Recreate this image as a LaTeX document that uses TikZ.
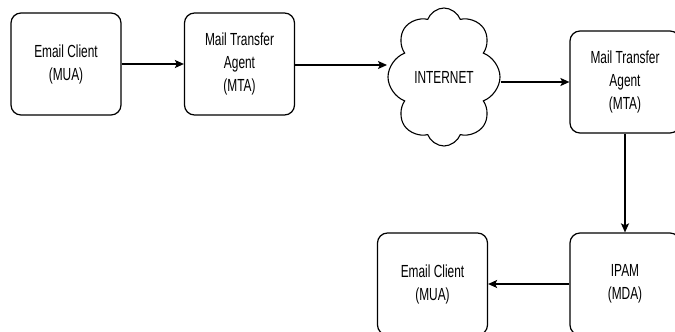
\documentclass[tikz,border=0pt]{standalone}
\usepackage{fontspec}
\newfontfamily\narrow[FakeStretch=0.68]{Liberation Sans}
\usetikzlibrary{shapes.symbols,arrows.meta}
\begin{document}
\begin{tikzpicture}[x=1pt,y=-1pt,
  box/.style={draw=black,line width=1.2pt,rounded corners=10pt,minimum width=110pt,minimum height=102pt,inner sep=0pt,align=center,
    font=\narrow\fontsize{17.5}{23}\selectfont},
  net/.style={draw=black,line width=1.1pt,cloud,cloud puffs=8,cloud puff arc=140,cloud ignores aspect,minimum width=112pt,minimum height=138pt,inner sep=0pt,
    font=\narrow\fontsize{17.5}{23}\selectfont},
  link/.style={line width=1.5pt,-{Stealth[length=9pt,width=8pt,inset=2pt]}}]
\useasboundingbox (0,0) rectangle (675,332);
\clip (0,0) rectangle (675,332);
\node[box] (c1) at (66,64) {Email Client\\(MUA)};
\node[box] (m1) at (239.5,64) {Mail Transfer\\Agent\\(MTA)};
\node[net,shape border rotate=90] (net) at (444,77) {INTERNET};
\node[box] (m2) at (625,82) {Mail Transfer\\Agent\\(MTA)};
\node[box] (ipam) at (625,284) {IPAM\\(MDA)};
\node[box] (c2) at (432.5,284) {Email Client\\(MUA)};
\coordinate (netin) at (387,65);
\draw[link] (c1.east) -- (m1.west);
\draw[link] (m1.east |- netin) -- (netin);
\draw[link] (net.east |- m2.west) -- (m2.west);
\draw[link] (m2.south) -- (ipam.north);
\draw[link] (ipam.west) -- (c2.east);
\end{tikzpicture}
\end{document}
